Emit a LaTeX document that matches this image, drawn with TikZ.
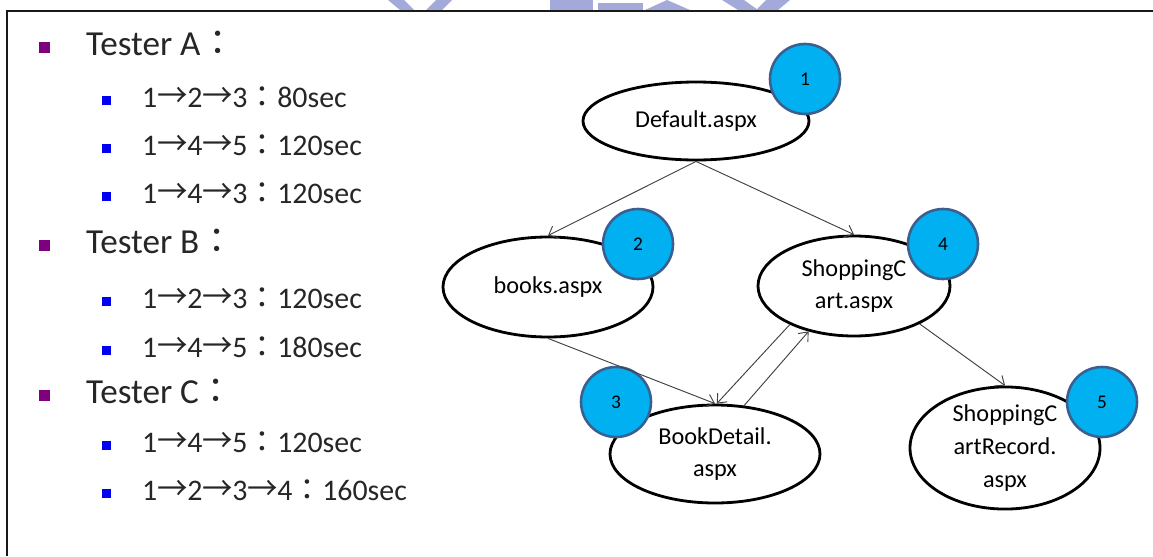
\documentclass[tikz,border=0pt]{standalone}
\usepackage{fontspec}
\setmainfont{Carlito}
\newfontfamily\cjk{Noto Sans CJK TC}
\usetikzlibrary{shapes.geometric, arrows.meta}

\definecolor{badgefill}{HTML}{00B0F0}
\definecolor{badgeline}{HTML}{3B5F8F}
\definecolor{logoblue}{HTML}{A3AADA}
\definecolor{topicpurple}{HTML}{7F007F}
\definecolor{itemblue}{HTML}{0000F0}
\newcommand{\goto}{\makebox[1em]{\scalebox{1.02}[1.1]{\cjk →}}}
\newcommand{\fcolon}{{\cjk ：}}

\begin{document}
\begin{tikzpicture}[
    x=0.03cm, y=-0.03cm,
    page/.style={draw, ellipse, line width=2.4pt, inner sep=0pt, align=center, font=\fontsize{20.7}{28}\selectfont},
    badge/.style={draw=badgeline, fill=badgefill, circle, line width=2.2pt, minimum size=2.1cm, inner sep=0pt, font=\fontsize{16.5}{18}\selectfont},
    link/.style={-{Straight Barb[length=6.5pt, width=11pt]}, line width=0.8pt, black!75},
    topic/.style={anchor=base west, inner sep=0pt, text=black!85, font=\fontsize{30}{34}\selectfont},
    item/.style={anchor=base west, inner sep=0pt, text=black!85, font=\fontsize{25.5}{30}\selectfont},
    topicmark/.style={fill=topicpurple, minimum size=0.33cm, inner sep=0pt},
    itemmark/.style={fill=itemblue, minimum size=0.27cm, inner sep=0pt}
]
    \useasboundingbox (0,0) rectangle (1153,556);

    % Logo remains above the frame
    \begin{scope}[fill=logoblue]
        \fill (388,0) -- (404,0) -- (414,10) -- (400,10) -- cycle;
        \fill (436,0) -- (452,0) -- (442,10) -- (426,10) -- cycle;
        \fill (550,0) rectangle (593,10);
        \fill (598,3) rectangle (643,10);
        \fill (645,10) -- (667,0) -- (690,10) -- cycle;
        \fill (722,0) -- (744,0) -- (758,10) -- (738,10) -- cycle;
        \fill (766,0) -- (790,0) -- (778,10) -- (756,10) -- cycle;
    \end{scope}

    % Frame
    \draw[line width=2.4pt, black!90] (7,556) |- (1153,11);

    % Testers
    \node[topicmark] (ma) at (44,47) {};
    \node[topic] (ta) at (86,55) {Tester A\fcolon};
    \node[itemmark] (ma1) at (106.5,100) {};
    \node[item] (ta1) at (142,107) {1\goto2\goto3\fcolon80sec};
    \node[itemmark] (ma2) at (106.5,148) {};
    \node[item] (ta2) at (142,155) {1\goto4\goto5\fcolon120sec};
    \node[itemmark] (ma3) at (106.5,196) {};
    \node[item] (ta3) at (142,203) {1\goto4\goto3\fcolon120sec};

    \node[topicmark] (mb) at (44,245) {};
    \node[topic] (tb) at (86,253) {Tester B\fcolon};
    \node[itemmark] (mb1) at (106.5,301) {};
    \node[item] (tb1) at (142,308) {1\goto2\goto3\fcolon120sec};
    \node[itemmark] (mb2) at (106.5,350) {};
    \node[item] (tb2) at (142,357) {1\goto4\goto5\fcolon180sec};

    \node[topicmark] (mc) at (44,395) {};
    \node[topic] (tc) at (86,403) {Tester C\fcolon};
    \node[itemmark] (mc1) at (106.5,445) {};
    \node[item] (tc1) at (142,452) {1\goto4\goto5\fcolon120sec};
    \node[itemmark] (mc2) at (106.5,493) {};
    \node[item] (tc2) at (142,500) {1\goto2\goto3\goto4\fcolon160sec};

    % Pages
    \node[page, minimum width=6.78cm, minimum height=2.34cm] (default) at (696,121) {Default.aspx};
    \node[page, minimum width=6.3cm, minimum height=3cm] (books) at (548,287) {books.aspx};
    \node[page, minimum width=5.76cm, minimum height=3cm] (cart) at (854,286) {ShoppingC\\art.aspx};
    \node[page, minimum width=6.3cm, minimum height=2.94cm] (detail) at (715,454) {BookDetail.\\aspx};
    \node[page, minimum width=5.7cm, minimum height=3.3cm] (record) at (1005,448) {ShoppingC\\artRecord.\\aspx};

    % Numbers
    \node[badge] (n1) at (805,79) {1};
    \node[badge] (n2) at (638,244) {2};
    \node[badge] (n3) at (616,402) {3};
    \node[badge] (n4) at (943,244) {4};
    \node[badge] (n5) at (1102,402) {5};

    % Links
    \draw[link] (default.south) -- (books.north);
    \draw[link] (default.south) -- (cart.north);
    \draw[link] (books.south) -- (detail.north);
    \draw[link] (cart.211) -- (detail.88);
    \draw[link] (detail.59) -- (cart.225);
    \draw[link] (cart.330) -- (record.north);
\end{tikzpicture}
\end{document}
